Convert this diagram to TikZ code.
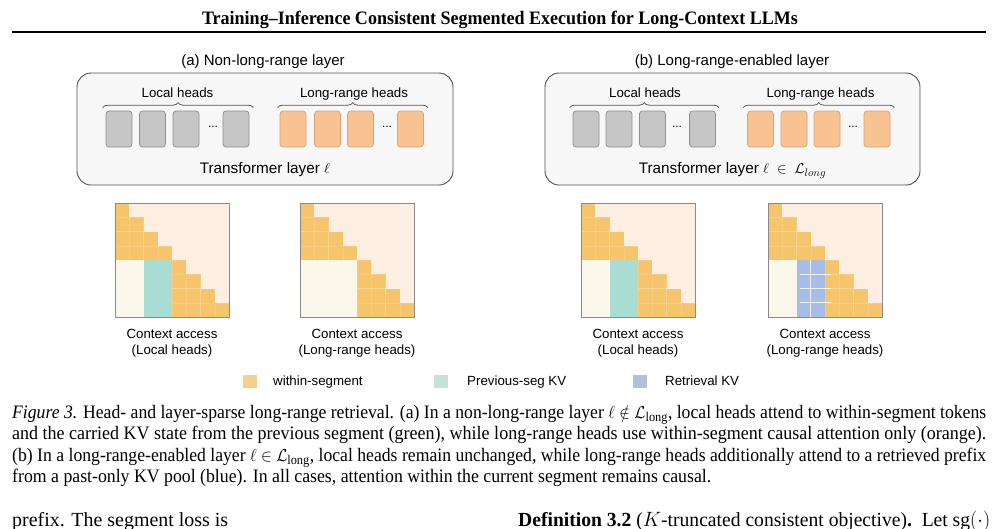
\documentclass[tikz,border=0pt]{standalone}
\usepackage{fontspec}
\setmainfont{Liberation Serif}
\setsansfont{Liberation Sans}
\usepackage{graphicx}
\usetikzlibrary{decorations.pathreplacing}
\definecolor{panelBorder}{HTML}{505050}
\definecolor{panelFill}{HTML}{F7F7F7}
\definecolor{gheadFill}{HTML}{C6C6C6}
\definecolor{gheadBorder}{HTML}{8E8E8E}
\definecolor{oheadFill}{HTML}{F9C291}
\definecolor{oheadBorder}{HTML}{D6A57A}
\definecolor{braceCol}{HTML}{555555}
\definecolor{matOrange}{HTML}{F6C46A}
\definecolor{matPeach}{HTML}{FCEFE2}
\definecolor{matCream}{HTML}{FAF7EA}
\definecolor{matGreen}{HTML}{A9DCD2}
\definecolor{matBlue}{HTML}{A7BCE6}
\definecolor{matBorder}{HTML}{8A8A8A}
\definecolor{legOrange}{HTML}{F6D08A}
\definecolor{legGreen}{HTML}{C6E1D9}
\definecolor{legBlue}{HTML}{AFC0DF}
\tikzset{
  panel/.style={draw=panelBorder, fill=panelFill, rounded corners=14pt, line width=0.9pt, inner sep=0pt},
  ghead/.style={draw=gheadBorder, fill=gheadFill, rounded corners=3pt, minimum width=26pt, minimum height=36pt, inner sep=0pt, line width=0.7pt},
  ohead/.style={ghead, draw=oheadBorder, fill=oheadFill},
  lbl/.style={font=\sffamily\fontsize{13.3}{15}\selectfont, inner sep=0pt, anchor=base},
  biglbl/.style={font=\sffamily\fontsize{15.3}{17}\selectfont, inner sep=0pt, anchor=base},
  ttl/.style={font=\sffamily\fontsize{15}{17}\selectfont, inner sep=0pt, anchor=base},
  hbrace/.style={decorate, decoration={brace, amplitude=5pt}, draw=braceCol, line width=0.8pt},
  hdots/.style={font=\sffamily\fontsize{12}{14}\selectfont, inner sep=0pt},
  matbox/.style={draw=matBorder, line width=0.8pt, minimum size=114pt, inner sep=0pt},
  ocell/.style={fill=matOrange, draw=white, draw opacity=0.15, line width=0.4pt},
  legsq/.style={minimum width=14pt, minimum height=13pt, inner sep=0pt},
  captxt/.style={anchor=base west, inner sep=0pt, font=\fontsize{19}{21}\selectfont},
}
\newcommand\mymatrix[4]{%
  \fill[matPeach] (#2,#3) rectangle ++(114,114);
  \fill[matCream] (#2,#3+57) rectangle ++(57,57);
  \foreach \r in {0,...,3}{\foreach \c in {0,...,\r}{%
    \filldraw[ocell] (#2+\c*14.25,#3+\r*14.25) rectangle ++(14.25,14.25);}}
  \foreach \r in {4,...,7}{\foreach \c in {4,...,\r}{%
    \filldraw[ocell] (#2+\c*14.25,#3+\r*14.25) rectangle ++(14.25,14.25);}}
  \ifcase#4\or
    \fill[matGreen] (#2+28.5,#3+57) rectangle ++(28.5,57);
  \or
    \fill[matBlue] (#2+28.5,#3+57) rectangle ++(28.5,57);
    \draw[white, line width=0.6pt, opacity=0.8] (#2+42.75,#3+57) -- ++(0,57);
    \foreach \r in {5,6,7}{\draw[white, line width=0.6pt, opacity=0.8] (#2+32,#3+\r*14.25) -- ++(31,0);}
  \fi
  \node[matbox] (#1) at (#2+57,#3+57) {};
}
\begin{document}
\begin{tikzpicture}[x=1pt,y=-1pt]
\useasboundingbox (0,0) rectangle (999,528);
\begin{scope}
\clip (0,0) rectangle (999,528);
% header
\node[anchor=base, inner sep=0pt] (title) at (500,24) {\resizebox{596pt}{\height}{\fontsize{19}{21}\selectfont\bfseries Training–Inference Consistent Segmented Execution for Long-Context LLMs}};
\coordinate (rl) at (12,32);
\coordinate (rr) at (986,32);
\draw[line width=1.6pt] (rl) -- (rr);

% panel titles
\node[ttl] (ta) at (263,65) {(a) Non-long-range layer};
\node[ttl] (tb) at (732,65) {(b) Long-range-enabled layer};

% panels
\node[panel, minimum width=376pt, minimum height=112pt] (pa) at (265,129) {};
\node[panel, minimum width=375pt, minimum height=112pt] (pb) at (732.5,129) {};

% heads (a)
\node[ghead] (al1) at (119,129) {};
\node[ghead] (al2) at (152.5,129) {};
\node[ghead] (al3) at (186,129) {};
\node[hdots] (ald) at (213,127) {...};
\node[ghead] (al4) at (236,129) {};
\node[ohead] (ar1) at (293,129) {};
\node[ohead] (ar2) at (327.5,129) {};
\node[ohead] (ar3) at (360.5,129) {};
\node[hdots] (ard) at (387,127) {...};
\node[ohead] (ar4) at (410.5,129) {};
% heads (b)
\node[ghead] (bl1) at (586,129) {};
\node[ghead] (bl2) at (619,129) {};
\node[ghead] (bl3) at (652.5,129) {};
\node[hdots] (bld) at (677,127) {...};
\node[ghead] (bl4) at (702.5,129) {};
\node[ohead] (br1) at (760.5,129) {};
\node[ohead] (br2) at (794,129) {};
\node[ohead] (br3) at (827,129) {};
\node[hdots] (brd) at (853,127) {...};
\node[ohead] (br4) at (877,129) {};

% braces
\draw[hbrace] ([xshift=-3pt,yshift=3pt]al1.north west) -- ([xshift=4pt,yshift=3pt]al4.north east);
\draw[hbrace] ([xshift=-2pt,yshift=3pt]ar1.north west) -- ([xshift=4pt,yshift=3pt]ar4.north east);
\draw[hbrace] ([xshift=-3pt,yshift=3pt]bl1.north west) -- ([xshift=3pt,yshift=3pt]bl4.north east);
\draw[hbrace] ([xshift=-4pt,yshift=3pt]br1.north west) -- ([xshift=4pt,yshift=3pt]br4.north east);

\node[lbl] (lal) at (177.5,97.5) {Local heads};
\node[lbl] (lar) at (354,97.5) {Long-range heads};
\node[lbl] (lbl) at (645,97.5) {Local heads};
\node[lbl] (lbr) at (820.5,97.5) {Long-range heads};

\node[biglbl] (tla) at (265,173.5) {Transformer layer $\ell$};
\node[biglbl] (tlb) at (732.5,173.5) {Transformer layer $\ell\;\in\;\mathcal{L}_{long}$};

% matrices
\mymatrix{ma1}{115}{203}{1}
\mymatrix{ma2}{300}{203}{0}
\mymatrix{mb1}{581}{203}{1}
\mymatrix{mb2}{768}{203}{2}

\node[lbl] (ca1) at (172,338.5) {Context access};
\node[lbl] (cb1) at (172,354.5) {(Local heads)};
\node[lbl] (ca2) at (357,338.5) {Context access};
\node[lbl] (cb2) at (357,354.5) {(Long-range heads)};
\node[lbl] (ca3) at (638,338.5) {Context access};
\node[lbl] (cb3) at (638,354.5) {(Local heads)};
\node[lbl] (ca4) at (825,338.5) {Context access};
\node[lbl] (cb4) at (825,354.5) {(Long-range heads)};

% legend
\node[legsq, fill=legOrange] (lg1) at (250,381.5) {};
\node[lbl, anchor=base west] (lt1) at (273,385.5) {within-segment};
\node[legsq, fill=legGreen] (lg2) at (441,381.5) {};
\node[lbl, anchor=base west] (lt2) at (467,385.5) {Previous-seg KV};
\node[legsq, fill=legBlue] (lg3) at (640,381.5) {};
\node[lbl, anchor=base west] (lt3) at (665,385.5) {Retrieval KV};

% caption
\node[captxt] (c1) at (12,418) {\resizebox{974pt}{\height}{\textit{Figure 3.} Head- and layer-sparse long-range retrieval. (a) In a non-long-range layer $\ell \notin \mathcal{L}_{\mathrm{long}}$, local heads attend to within-segment tokens}};
\node[captxt] (c2) at (12,439.5) {\resizebox{974pt}{\height}{and the carried KV state from the previous segment (green), while long-range heads use within-segment causal attention only (orange).}};
\node[captxt] (c3) at (12,461) {\resizebox{974pt}{\height}{(b) In a long-range-enabled layer $\ell \in \mathcal{L}_{\mathrm{long}}$, local heads remain unchanged, while long-range heads additionally attend to a retrieved prefix}};
\node[captxt] (c4) at (12,482.5) {\resizebox{699pt}{\height}{from a past-only KV pool (blue). In all cases, attention within the current segment remains causal.}};

% body text (cut off at the lower edge, as in the reference)
\node[captxt, font=\fontsize{20}{22}\selectfont] (b1) at (12,526) {\resizebox{216pt}{\height}{prefix. The segment loss is}};
\node[captxt, font=\fontsize{20}{22}\selectfont] (b2) at (518,526) {\resizebox{472pt}{\height}{\textbf{Definition 3.2} ($K$-truncated consistent objective)\textbf{.}\ \ Let sg$(\cdot)$}};
\end{scope}
\end{tikzpicture}
\end{document}
